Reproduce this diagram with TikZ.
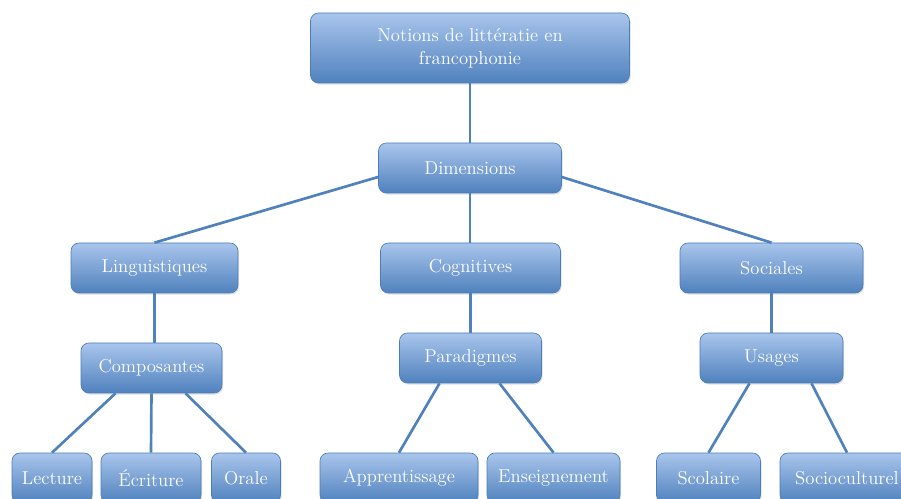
\documentclass[tikz,border=0pt]{standalone}
\usetikzlibrary{calc,shadows}

\definecolor{bleuhaut}{HTML}{A9C5EC}
\definecolor{bleubas}{HTML}{4F81BD}
\definecolor{bleutrait}{HTML}{4A7EBB}

\tikzset{
  boite/.style={rectangle, rounded corners=6pt, draw=bleutrait, line width=0.5pt,
    top color=bleuhaut, bottom color=bleubas, text=white, inner sep=0pt,
    minimum height=37.5pt, align=center,
    font=\fontsize{14}{17}\selectfont,
    drop shadow={opacity=0.25, shadow xshift=0.8pt, shadow yshift=-1.2pt}},
  lien/.style={draw=bleubas, line width=2pt}
}

\begin{document}
\begin{tikzpicture}[x=0.75pt,y=-0.75pt]

\clip (0,0) rectangle (901,499);

\node[boite, minimum width=239.25pt, minimum height=52.5pt] (notions) at (470,48) {Notions de littératie en\\francophonie};
\node[boite, minimum width=137.25pt] (dim) at (470,168) {Dimensions};

\node[boite, minimum width=125.25pt] (ling) at (154.5,268) {Linguistiques};
\node[boite, minimum width=135pt] (cog) at (470.5,268) {Cognitives};
\node[boite, minimum width=137.25pt] (soc) at (771.5,268) {Sociales};

\node[boite, minimum width=105.75pt] (comp) at (151.5,368) {Composantes};
\node[boite, minimum width=106.5pt] (para) at (470.5,358) {Paradigmes};
\node[boite, minimum width=107.25pt] (usa) at (771.5,358) {Usages};

\node[boite, minimum width=60pt] (lect) at (52,478) {Lecture};
\node[boite, minimum width=75pt] (ecr) at (151,478) {Écriture};
\node[boite, minimum width=51.75pt] (ora) at (246,478) {Orale};
\node[boite, minimum width=118.5pt] (app) at (399,478) {Apprentissage};
\node[boite, minimum width=99.75pt] (ens) at (553.5,478) {Enseignement};
\node[boite, minimum width=78pt] (sco) at (708.5,478) {Scolaire};
\node[boite, minimum width=100.5pt] (soci) at (847,478) {Socioculturel};

% liens
\draw[lien] (notions.south) -- (dim.north);
\draw[lien] ($(dim.west)+(0,9)$) -- (ling.north);
\draw[lien] (dim.south) -- (dim.south |- cog.north);
\draw[lien] ($(dim.east)+(0,9)$) -- (soc.north);

\draw[lien] (ling.south) -- (ling.south |- comp.north);
\draw[lien] (cog.south) -- (para.north);
\draw[lien] (soc.south) -- (usa.north);

\draw[lien] ($(comp.south)+(-36,0)$) -- (lect.north);
\draw[lien] (comp.south) -- (ecr.north);
\draw[lien] ($(comp.south)+(34,0)$) -- (ora.north);
\draw[lien] ($(para.south)+(-31,0)$) -- (app.north);
\draw[lien] ($(para.south)+(29,0)$) -- (ens.north);
\draw[lien] ($(usa.south)+(-22,0)$) -- (sco.north);
\draw[lien] ($(usa.south)+(40,0)$) -- (soci.north);

\end{tikzpicture}
\end{document}
